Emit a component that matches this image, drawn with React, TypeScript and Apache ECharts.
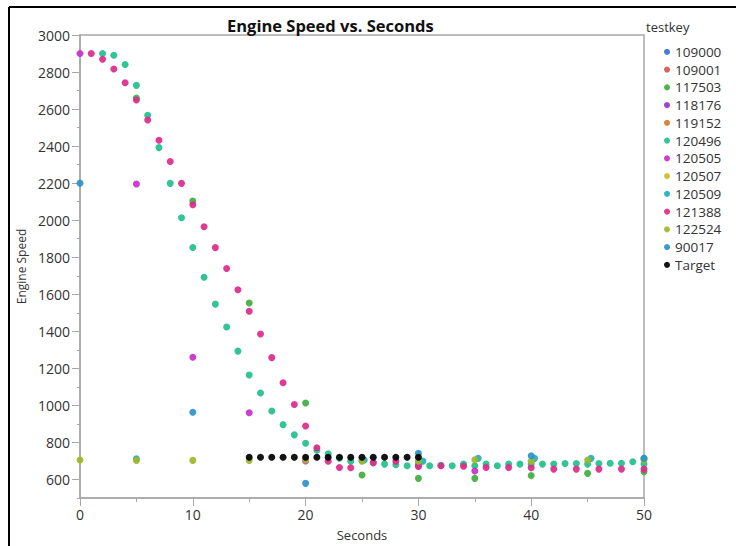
import React, { useEffect, useRef } from "react";
import * as echarts from "echarts";

const seriesNames = ["109000", "109001", "117503", "118176", "119152", "120496", "120505", "120507", "120509", "121388", "122524", "90017", "Target"];
const seriesColors = ["#3b6fd6", "#d9534f", "#3fae3f", "#9932cc", "#d97a2b", "#20bf8c", "#c92fc9", "#c9bf2a", "#22aebd", "#dc2a8c", "#9cb82a", "#2b93c9", "#000000"];

const s109000: number[][] = [];
const s109001: number[][] = [];
const s117503 = [[5, 2660], [10, 2103], [15, 1553], [20, 1013], [25, 624], [30, 606], [35, 606], [40, 621], [45, 633], [50, 642]];
const s118176: number[][] = [];
const s119152: number[][] = [];
const s120496 = [[2, 2900], [3, 2891], [4, 2841], [5, 2728], [6, 2567], [7, 2392], [8, 2199], [9, 2013], [10, 1853], [11, 1692], [12, 1547], [13, 1423], [14, 1293], [15, 1164], [16, 1067], [17, 970], [18, 896], [19, 841], [20, 796], [21, 758], [22, 739], [23, 715], [24, 699], [25, 700], [26, 690], [27, 683], [28, 680], [29, 674], [30, 683], [31, 674], [32, 676], [33, 674], [34, 683], [35, 674], [36, 683], [37, 674], [38, 683], [39, 683], [40, 683], [41, 683], [42, 683], [43, 686], [44, 686], [45, 683], [46, 686], [47, 688], [48, 688], [49, 696], [50, 683]];
const s120505 = [[0, 2900], [5, 2195], [10, 1260], [15, 960], [20, 700], [30, 675], [35, 646]];
const s120507: number[][] = [];
const s120509 = [[5, 712], [25.2, 705], [30.4, 699], [35.3, 714], [40.3, 714], [45.3, 714], [50, 714]];
const s121388 = [[1, 2900], [2, 2869], [3, 2816], [4, 2742], [5, 2649], [6, 2541], [7, 2432], [8, 2317], [9, 2199], [10, 2083], [11, 1965], [12, 1852], [13, 1739], [14, 1624], [15, 1508], [16, 1386], [17, 1258], [18, 1122], [19, 1005], [20, 889], [21, 771], [22, 699], [23, 665], [24, 663], [26, 691], [28, 699], [30, 670], [32, 674], [34, 671], [36, 665], [38, 665], [40, 663], [42, 656], [44, 656], [46, 656], [48, 656], [50, 656]];
const s122524 = [[0, 705], [5, 703], [10, 703], [15, 703], [20, 705], [25, 700], [30, 699], [35, 707], [40, 699], [45, 705], [50, 705]];
const s90017 = [[0, 2200], [10, 963], [20, 579], [30, 741], [40, 728], [50, 714]];
const sTarget = [[15, 720], [16, 720], [17, 720], [18, 720], [19, 720], [20, 720], [21, 720], [22, 720], [23, 720], [24, 720], [25, 720], [26, 720], [27, 720], [28, 720], [29, 720], [30, 720]];

const seriesData = [s109000, s109001, s117503, s118176, s119152, s120496, s120505, s120507, s120509, s121388, s122524, s90017, sTarget];

const yLabelValues = [600, 800, 1000, 1200, 1400, 1600, 1800, 2000, 2200, 2400, 2600, 2800, 3000];
const xLabelValues = [0, 10, 20, 30, 40, 50];

const FONT = "'Open Sans', 'Noto Sans', sans-serif";
const AXIS_GRAY = "#a8a8a8";

export default function App() {
  const ref = useRef<HTMLDivElement>(null);
  useEffect(() => {
    if (!ref.current) return;
    const chart = echarts.init(ref.current, null, { renderer: "svg" });
    chart.setOption({
      animation: false,
      backgroundColor: "#ffffff",
      textStyle: { fontFamily: FONT },
      title: {
        text: "Engine Speed vs. Seconds",
        left: 222,
        top: 12,
        textStyle: { fontFamily: FONT, fontSize: 16.5, fontWeight: "bold", color: "#111" },
      },
      grid: {
        left: 80,
        right: 92,
        top: 35,
        bottom: 47,
        show: true,
        borderColor: AXIS_GRAY,
        borderWidth: 1.5,
        backgroundColor: "transparent",
      },
      legend: {
        orient: "vertical",
        left: 659,
        top: 38,
        icon: "circle",
        itemWidth: 6,
        itemHeight: 6,
        itemGap: 0,
        selectedMode: false,
        data: seriesNames,
        textStyle: { fontFamily: FONT, fontSize: 13.5, color: "#333", lineHeight: 17.75 },
      },
      xAxis: {
        type: "value",
        min: 0,
        max: 50,
        interval: 10,
        name: "Seconds",
        nameLocation: "middle",
        nameGap: 30,
        nameTextStyle: { fontFamily: FONT, fontSize: 13, color: "#333" },
        axisLine: { show: true, lineStyle: { color: AXIS_GRAY, width: 1.5 } },
        axisTick: { show: true, length: 8, lineStyle: { color: AXIS_GRAY } },
        minorTick: { show: true, splitNumber: 2, length: 4, lineStyle: { color: AXIS_GRAY } },
        axisLabel: { fontFamily: FONT, fontSize: 14, color: "#333", margin: 9, customValues: xLabelValues },
        splitLine: { show: false },
      },
      yAxis: [
        {
          type: "value",
          min: 500,
          max: 3000,
          interval: 100,
          name: "Engine Speed",
          nameLocation: "middle",
          nameGap: 53,
          nameTextStyle: { fontFamily: FONT, fontSize: 12, color: "#333" },
          axisLine: { show: true, lineStyle: { color: AXIS_GRAY, width: 1.5 } },
          axisTick: { show: true, length: 3, lineStyle: { color: AXIS_GRAY } },
          axisLabel: {
            fontFamily: FONT,
            fontSize: 14,
            color: "#333",
            margin: 10,
            customValues: yLabelValues,
            formatter: (v: number) => String(v),
          },
          splitLine: { show: false },
        },
        {
          type: "value",
          min: 500,
          max: 3000,
          position: "left",
          axisLine: { show: false },
          axisTick: { show: true, length: 8, customValues: yLabelValues, lineStyle: { color: AXIS_GRAY } },
          axisLabel: { show: false },
          splitLine: { show: false },
        },
      ],
      graphic: [
        { type: "text", left: 646, top: 20, style: { text: "testkey", fontFamily: FONT, fontSize: 13, fill: "#333" } },
        { type: "line", shape: { x1: 9, y1: 7, x2: 736, y2: 7 }, style: { stroke: "#000", lineWidth: 2 } },
        { type: "line", shape: { x1: 9, y1: 7, x2: 9, y2: 546 }, style: { stroke: "#000", lineWidth: 2 } },
      ],
      series: seriesNames.map((name, i) => ({
        name,
        type: "scatter",
        yAxisIndex: 0,
        data: seriesData[i],
        symbol: "circle",
        symbolSize: 7,
        itemStyle: { color: seriesColors[i], opacity: 0.92 },
        emphasis: { disabled: true },
      })),
    });
    return () => chart.dispose();
  }, []);
  return <div ref={ref} style={{ position: "fixed", left: 0, top: 0, width: 736, height: 546 }} />;
}
